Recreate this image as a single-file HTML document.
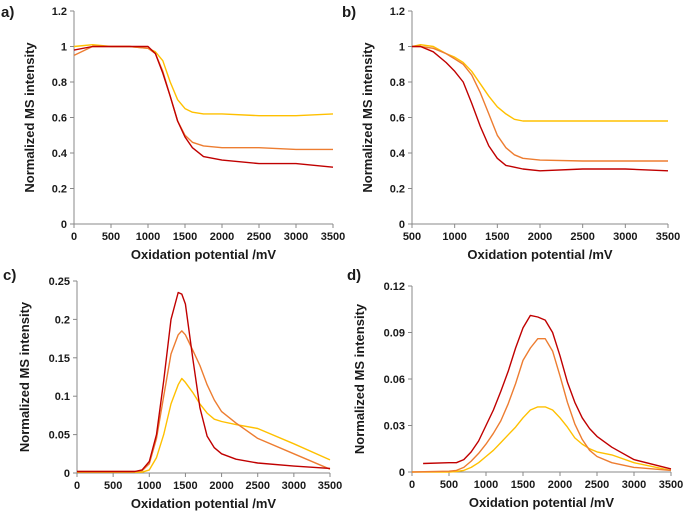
<!DOCTYPE html>
<html><head><meta charset="utf-8"><style>
body{margin:0;background:#fff;}
svg text{font-family:"Liberation Sans",sans-serif;font-weight:bold;fill:#1a1a1a;}
</style></head><body>
<svg id="s" width="685" height="518" viewBox="0 0 685 518" xmlns="http://www.w3.org/2000/svg"></svg>
<script>
const aX=[0,250,500,750,1000,1100,1200,1300,1400,1500,1600,1750,2000,2500,3000,3500];
const aYellow=[1.0,1.01,1.0,1.0,0.99,0.97,0.92,0.80,0.70,0.65,0.63,0.62,0.62,0.61,0.61,0.62];
const aOrange=[0.95,1.0,1.0,1.0,0.99,0.96,0.86,0.72,0.58,0.50,0.46,0.44,0.43,0.43,0.42,0.42];
const aRed=[0.98,1.0,1.0,1.0,1.0,0.96,0.85,0.72,0.58,0.49,0.43,0.38,0.36,0.34,0.34,0.32];
const bX=[500,600,750,900,1000,1100,1200,1300,1400,1500,1600,1700,1800,2000,2500,3000,3500];
const bYellow=[1.0,1.01,1.0,0.96,0.94,0.91,0.86,0.79,0.72,0.66,0.62,0.59,0.58,0.58,0.58,0.58,0.58];
const bOrange=[1.0,1.0,0.99,0.96,0.93,0.90,0.84,0.74,0.62,0.50,0.43,0.39,0.37,0.36,0.355,0.355,0.355];
const bRed=[1.0,1.0,0.97,0.91,0.86,0.80,0.68,0.55,0.44,0.37,0.33,0.32,0.31,0.30,0.31,0.31,0.30];
const cX=[0,800,900,1000,1100,1200,1300,1400,1450,1500,1600,1700,1800,1900,2000,2200,2500,3000,3500];
const cRed=[0.002,0.002,0.004,0.015,0.05,0.12,0.20,0.235,0.233,0.22,0.15,0.085,0.048,0.033,0.025,0.018,0.013,0.009,0.006];
const cOrange=[0.002,0.002,0.003,0.012,0.045,0.10,0.155,0.18,0.185,0.18,0.16,0.14,0.115,0.095,0.08,0.065,0.045,0.025,0.005];
const cYellow=[0.001,0.001,0.001,0.004,0.02,0.05,0.09,0.115,0.123,0.118,0.105,0.09,0.078,0.07,0.067,0.063,0.058,0.038,0.017];
const dX=[0,500,600,700,800,900,1000,1100,1200,1300,1400,1500,1600,1700,1800,1900,2000,2100,2200,2300,2400,2500,2700,3000,3500];
const dRedX=[150,500,600,700,800,900,1000,1100,1200,1300,1400,1500,1600,1700,1800,1900,2000,2100,2200,2300,2400,2500,2700,3000,3500];
const dRed=[0.0055,0.006,0.006,0.008,0.013,0.02,0.03,0.04,0.052,0.065,0.08,0.093,0.101,0.1,0.098,0.09,0.075,0.058,0.045,0.035,0.028,0.023,0.016,0.008,0.002];
const dOrange=[0,0.0005,0.001,0.003,0.007,0.012,0.018,0.025,0.033,0.044,0.057,0.072,0.08,0.086,0.086,0.078,0.062,0.045,0.031,0.021,0.014,0.01,0.006,0.003,0.001];
const dYellow=[0,0,0.0003,0.001,0.003,0.006,0.01,0.014,0.019,0.024,0.029,0.035,0.04,0.042,0.042,0.04,0.035,0.029,0.022,0.018,0.015,0.013,0.011,0.006,0.001];
const aTicks=["0","0.2","0.4","0.6","0.8","1","1.2"];
const cTicks=["0","0.05","0.1","0.15","0.2","0.25"];
const dTicks=["0","0.03","0.06","0.09","0.12"];
const xTicksFull=["0","500","1000","1500","2000","2500","3000","3500"];
const xTicksB=["500","1000","1500","2000","2500","3000","3500"];
const RED="#c00000",ORA="#ed7d31",YEL="#ffc000";
const svg=document.getElementById('s');
const NS="http://www.w3.org/2000/svg";
function mk(t,a,p){const e=document.createElementNS(NS,t);for(const k in a)e.setAttribute(k,a[k]);(p||svg).appendChild(e);return e;}
function panel(id,L,R,T,B,x0,x1,ymax,yt,xt,series,letter,lx,ly){
  const g=mk('g',{});
  
  
  const sx=v=>L+(v-x0)/(x1-x0)*(R-L), sy=v=>B-v/ymax*(B-T);
  const ax=mk('path',{d:`M${L},${T}V${B}H${R}`,stroke:'#888',fill:'none','stroke-width':1},g);
  
  
  yt.forEach(t=>{const v=parseFloat(t),y=sy(v);
    mk('line',{x1:L-4,x2:L,y1:y,y2:y,stroke:'#888'},g);
    const tx=mk('text',{x:L-7,y:y+4,'font-size':11,'text-anchor':'end'},g);tx.textContent=t;
    
    });
  xt.forEach(t=>{const x=sx(parseFloat(t));
    mk('line',{x1:x,x2:x,y1:B,y2:B+4,stroke:'#888'},g);
    const tx=mk('text',{x:x,y:B+16,'font-size':11,'text-anchor':'middle'},g);tx.textContent=t;
    
    });
  series.forEach(s=>{const d=s.x.map((v,i)=>(i?'L':'M')+sx(v).toFixed(1)+','+sy(s.y[i]).toFixed(1)).join('');
    const p=mk('path',{d:d,stroke:s.c,fill:'none','stroke-width':1.4,'stroke-linejoin':'round'},g);
    
    });
  const xl=mk('text',{x:(L+R)/2,y:B+35,'font-size':13,'text-anchor':'middle'},g);xl.textContent='Oxidation potential /mV';
  
  
  const yx=L-(yt[1].length>3?48:40), yc=(T+B)/2;
  const yl=mk('text',{x:yx,y:yc,'font-size':13,'text-anchor':'middle',transform:`rotate(-90 ${yx} ${yc})`},g);yl.textContent='Normalized MS intensity';
  
  
  const lt=mk('text',{x:lx,y:ly,'font-size':15},g);lt.textContent=letter;
  
  
}
panel('a',74,333,11,224,0,3500,1.2,aTicks,xTicksFull,[{x:aX,y:aYellow,c:YEL,n:'yellow'},{x:aX,y:aOrange,c:ORA,n:'orange'},{x:aX,y:aRed,c:RED,n:'red'}],'a)',1,17);
panel('b',412,668,11,224,500,3500,1.2,aTicks,xTicksB,[{x:bX,y:bYellow,c:YEL,n:'yellow'},{x:bX,y:bOrange,c:ORA,n:'orange'},{x:bX,y:bRed,c:RED,n:'red'}],'b)',342,17);
panel('c',77,330,281,473,0,3500,0.25,cTicks,xTicksFull,[{x:cX,y:cYellow,c:YEL,n:'yellow'},{x:cX,y:cOrange,c:ORA,n:'orange'},{x:cX,y:cRed,c:RED,n:'red'}],'c)',3,280);
panel('d',412,671,286,472,0,3500,0.12,dTicks,xTicksFull,[{x:dX,y:dYellow,c:YEL,n:'yellow'},{x:dX,y:dOrange,c:ORA,n:'orange'},{x:dRedX,y:dRed,c:RED,n:'red'}],'d)',347,280);
</script>
</body></html>
